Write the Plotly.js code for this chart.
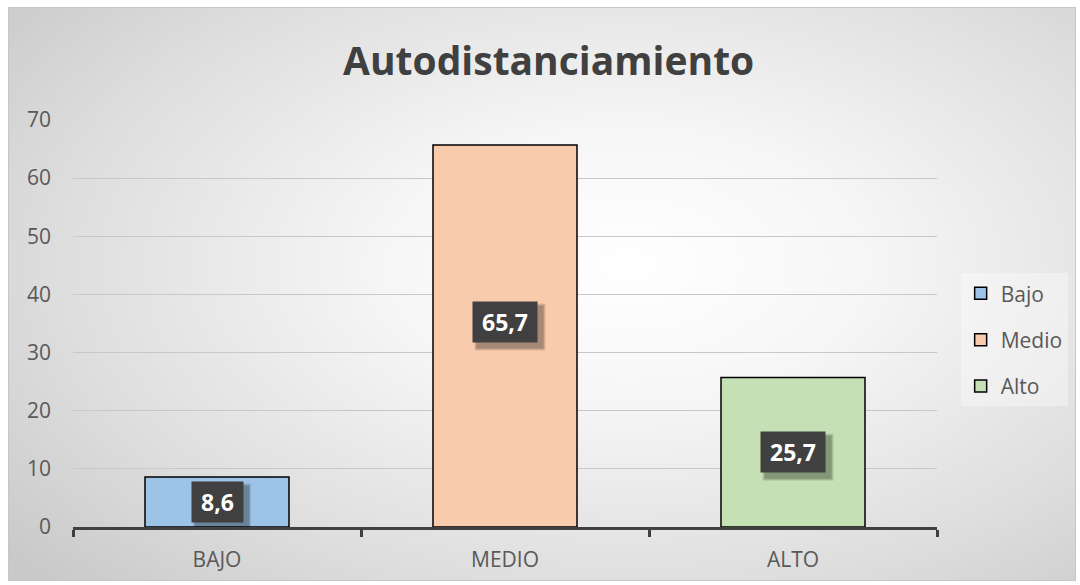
<!DOCTYPE html>
<html>
<head>
<meta charset="utf-8">
<script src="https://cdn.plot.ly/plotly-3.0.1.min.js"></script>
<style>
  html, body { margin:0; padding:0; background:#ffffff; width:1080px; height:585px; overflow:hidden; }
  #frame { position:absolute; left:8px; top:7px; width:1066px; height:572px;
    border:1px solid #c6c6c6;
    background: radial-gradient(ellipse 75% 80% at 58% 45%, #ffffff 0%, #f6f6f6 30%, #dddddd 72%, #c9c9c9 100%); }
  #chart { position:absolute; left:0; top:0; width:1080px; height:585px; }
</style>
</head>
<body>
<div id="frame"></div>
<div id="chart"></div>
<script>
const categories = ["BAJO", "MEDIO", "ALTO"];
const seriesNames = ["Bajo", "Medio", "Alto"];
const values = [8.6, 65.7, 25.7];
const labels = ["8,6", "65,7", "25,7"];
const colors = ["#9DC3E6", "#F8CBAD", "#C5E0B4"];
const yTicks = [0, 10, 20, 30, 40, 50, 60, 70];
const labelShift = [0, 14, 0];

const traces = categories.map((c, i) => ({
  type: 'bar',
  x: [c],
  y: [values[i]],
  name: seriesNames[i],
  legendgroup: 'g' + i,
  width: 0.5,
  marker: { color: colors[i], line: { color: '#000000', width: 1.5 } },
  hoverinfo: 'skip'
}));

const annotations = [];
const shapes = [];
categories.forEach((c, i) => {
  const w = labels[i].length > 3 ? 64 : 51;
  const h = 40;
  [[7, 0.10], [5, 0.12], [3, 0.14]].forEach(([g, a]) => {
    shapes.push({
      type: 'rect', xref: 'x', yref: 'y', xsizemode: 'pixel', ysizemode: 'pixel',
      xanchor: c, yanchor: values[i] / 2,
      x0: -w / 2 + 5 - g / 2, x1: w / 2 + 5 + g / 2,
      y0: labelShift[i] - h / 2 - 5 - g / 2, y1: labelShift[i] + h / 2 - 5 + g / 2,
      fillcolor: 'rgba(0,0,0,' + a + ')', line: { width: 0 }, layer: 'above'
    });
  });
  annotations.push({
    x: c, y: values[i] / 2, xref: 'x', yref: 'y',
    text: '<b>' + labels[i] + '</b>', showarrow: false,
    font: { family: 'Open Sans, sans-serif', size: 23, color: '#ffffff' },
    bgcolor: '#404040', borderpad: 0, width: w, height: h, valign: 'middle',
    yshift: labelShift[i]
  });
});

const layout = {
  width: 1080, height: 585,
  paper_bgcolor: 'rgba(0,0,0,0)',
  plot_bgcolor: 'rgba(0,0,0,0)',
  margin: { l: 73, r: 143, t: 120, b: 58, autoexpand: false },
  barmode: 'overlay',
  title: {
    text: '<b>Autodistanciamiento</b>',
    font: { family: 'Open Sans, sans-serif', size: 39, color: '#404040' },
    x: 0.508, xanchor: 'center', y: 0.895, yanchor: 'middle'
  },
  xaxis: {
    type: 'category', automargin: false,
    tickfont: { family: 'Open Sans, sans-serif', size: 21, color: '#595959' },
    showline: true, linecolor: '#404040', linewidth: 2.5,
    ticks: 'outside', tickson: 'boundaries', ticklen: 7, tickwidth: 3, tickcolor: '#404040',
    ticklabelstandoff: 12,
    showgrid: false, fixedrange: true
  },
  yaxis: {
    range: [0, 70], tickvals: yTicks, ticktext: yTicks.map(String), automargin: false,
    tickfont: { family: 'Open Sans, sans-serif', size: 21, color: '#595959' },
    showgrid: true, gridcolor: '#c8c8c8', gridwidth: 1,
    zeroline: false, showline: false, ticks: '', ticklabelstandoff: 21, fixedrange: true
  },
  legend: {
    xref: 'container', yref: 'container',
    x: 0.8895, xanchor: 'left', y: 0.533, yanchor: 'top',
    bgcolor: 'rgba(255,255,255,0.35)',
    font: { family: 'Open Sans, sans-serif', size: 21, color: '#595959' },
    tracegroupgap: 16, itemwidth: 30, traceorder: 'grouped'
  },
  shapes: shapes,
  annotations: annotations,
  showlegend: true
};

Plotly.newPlot('chart', traces, layout, { displayModeBar: false, staticPlot: true });
</script>
</body>
</html>
